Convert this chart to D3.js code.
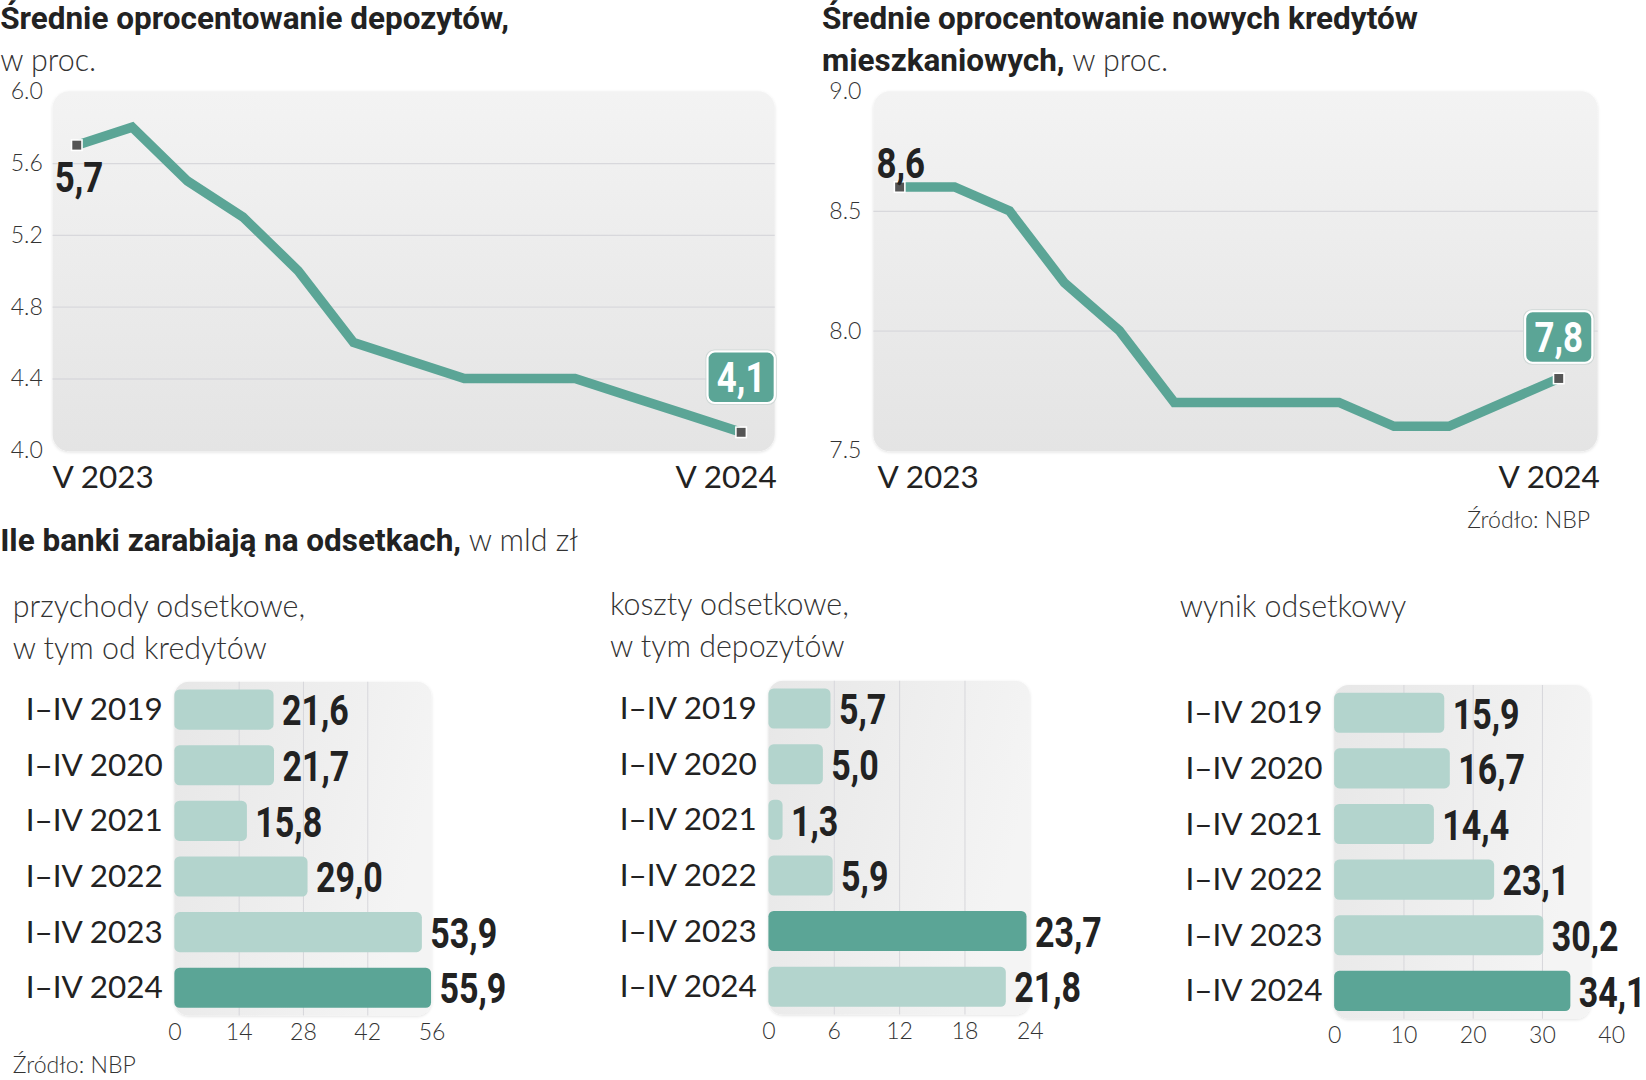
<!DOCTYPE html>
<html lang="pl">
<head>
<meta charset="utf-8">
<script src="https://cdn.jsdelivr.net/npm/d3@7"></script>
<style>
  body { margin: 0; background: #fff; }
  .bold { font-family: Roboto, "DejaVu Sans Condensed", sans-serif; font-weight: 700; fill: #222; }
  .light { font-family: Lato, "Open Sans", sans-serif; font-weight: 300; fill: #333; }
  .reg { font-family: Lato, "Open Sans", sans-serif; font-weight: 400; fill: #222; }
</style>
</head>
<body>
<svg id="chart"></svg>
<script>
// data
const months = ["V 2023", "VI 2023", "VII 2023", "VIII 2023", "IX 2023", "X 2023", "XI 2023",
  "XII 2023", "I 2024", "II 2024", "III 2024", "IV 2024", "V 2024"];
const deposits = [5.7, 5.8, 5.5, 5.3, 5.0, 4.6, 4.5, 4.4, 4.4, 4.4, 4.3, 4.2, 4.1];
const mortgages = [8.6, 8.6, 8.5, 8.2, 8.0, 7.7, 7.7, 7.7, 7.7, 7.6, 7.6, 7.7, 7.8];
const depTicks = [4.0, 4.4, 4.8, 5.2, 5.6, 6.0];
const mortTicks = [7.5, 8.0, 8.5, 9.0];

const years = ["I–IV 2019", "I–IV 2020", "I–IV 2021", "I–IV 2022", "I–IV 2023", "I–IV 2024"];
const income = [21.6, 21.7, 15.8, 29.0, 53.9, 55.9];
const costs = [5.7, 5.0, 1.3, 5.9, 23.7, 21.8];
const netResult = [15.9, 16.7, 14.4, 23.1, 30.2, 34.1];
const incomeTicks = [0, 14, 28, 42, 56];
const costTicks = [0, 6, 12, 18, 24];
const resultTicks = [0, 10, 20, 30, 40];

const teal = "#5ba596", tealLight = "#b3d4cd";
const comma = v => d3.format(".1f")(v).replace(".", ",");
const NARROW = 0.79;   // squeeze for the condensed bold numbers

const svg = d3.select("#chart")
  .attr("width", 1646).attr("height", 1080)
  .attr("viewBox", "0 0 1568 1029");

const defs = svg.append("defs");
const grad = defs.append("linearGradient").attr("id", "bgGrad")
  .attr("x1", 0).attr("y1", 0).attr("x2", 0).attr("y2", 1);
grad.append("stop").attr("offset", "0%").attr("stop-color", "#f3f3f3");
grad.append("stop").attr("offset", "100%").attr("stop-color", "#e4e4e4");
const grad2 = defs.append("linearGradient").attr("id", "barBg")
  .attr("x1", 0).attr("y1", 0).attr("x2", 1).attr("y2", 0.3);
grad2.append("stop").attr("offset", "0%").attr("stop-color", "#e7e7e7");
grad2.append("stop").attr("offset", "100%").attr("stop-color", "#f4f4f4");
const shadow = defs.append("filter").attr("id", "soft")
  .attr("x", "-5%").attr("y", "-5%").attr("width", "110%").attr("height", "110%");
shadow.append("feDropShadow").attr("dx", 0).attr("dy", 1).attr("stdDeviation", 1.5)
  .attr("flood-color", "#000").attr("flood-opacity", 0.12);

// condensed bold text: squeezed horizontally around its anchor point
function narrowText(parent, x, y, size, str, anchor, sx) {
  return parent.append("text").attr("class", "bold").attr("font-size", size)
    .attr("text-anchor", anchor || "start")
    .attr("transform", `translate(${x},${y}) scale(${sx || NARROW},1)`)
    .text(str);
}

// titles
function title(x, y, boldText, lightText) {
  const t = svg.append("text").attr("font-size", 30)
    .attr("x", x).attr("y", y);
  if (boldText) t.append("tspan").attr("class", "bold").text(boldText);
  if (lightText) t.append("tspan").attr("class", "light").attr("font-size", 29).text(lightText);
  return t;
}
title(0, 28, "Średnie oprocentowanie depozytów,");
title(0, 68, null, "w proc.");
title(783, 28, "Średnie oprocentowanie nowych kredytów");
title(783, 68, "mieszkaniowych,", " w proc.");
title(0, 525, "Ile banki zarabiają na odsetkach,", " w mld zł");

function lineChart(o) {
  const g = svg.append("g");
  const x = d3.scalePoint().domain(months).range([o.px0, o.px1]);
  const y = d3.scaleLinear().domain(o.domain).range([429, 87]);

  g.append("rect")
    .attr("x", o.bg0).attr("y", 87).attr("width", o.bg1 - o.bg0).attr("height", 343)
    .attr("rx", 16).attr("fill", "url(#bgGrad)").attr("filter", "url(#soft)");

  const grid = g.append("g").attr("transform", `translate(${o.bg0},0)`)
    .call(d3.axisLeft(y).tickValues(o.ticks.slice(1, -1)).tickSize(-(o.bg1 - o.bg0)).tickFormat(""));
  grid.select(".domain").remove();
  grid.selectAll(".tick line").attr("stroke", "#d8d8dc").attr("stroke-width", 1.2);

  const ax = g.append("g").attr("transform", `translate(${o.tickX},0)`)
    .call(d3.axisLeft(y).tickValues(o.ticks).tickSize(0).tickFormat(d3.format(".1f")));
  ax.select(".domain").remove();
  ax.selectAll("text").attr("x", 0).attr("text-anchor", "start")
    .attr("class", "light").attr("font-size", 22).attr("fill", "#333");

  const line = d3.line().x((d, i) => x(months[i])).y(d => y(d));
  g.append("path").datum(o.values).attr("d", line)
    .attr("fill", "none").attr("stroke", teal).attr("stroke-width", 9);

  const ends = [0, o.values.length - 1];
  g.selectAll(".mk").data(ends).join("rect")
    .attr("x", i => x(months[i]) - 5).attr("y", i => y(o.values[i]) - 5)
    .attr("width", 10).attr("height", 10)
    .attr("fill", "#555").attr("stroke", "#fff").attr("stroke-width", 1.5);

  // first value label
  const fx = x(months[0]), fy = y(o.values[0]);
  narrowText(g, fx + o.firstDx, fy + o.firstDy, 41, comma(o.values[0]), o.firstAnchor, 0.81);

  // last value label in a box
  const last = o.values.length - 1;
  const lx = x(months[last]), ly = y(o.values[last]);
  const bw = 64, bh = 49, by = ly - o.boxGap - bh;
  g.append("rect").attr("x", lx - bw / 2 - 1.5).attr("y", by - 1.5)
    .attr("width", bw + 3).attr("height", bh + 3).attr("rx", 8)
    .attr("fill", "none").attr("stroke", "#cfd8d6").attr("stroke-width", 1);
  g.append("rect").attr("x", lx - bw / 2).attr("y", by).attr("width", bw).attr("height", bh)
    .attr("rx", 7).attr("fill", teal).attr("stroke", "#fff").attr("stroke-width", 2);
  narrowText(g, lx, by + bh / 2 + 14, 41, comma(o.values[last]), "middle", 0.81).style("fill", "#fff");

  // x labels
  g.append("text").attr("class", "reg").attr("font-size", 30)
    .attr("x", o.bg0 + o.xlDx).attr("y", 465).text(months[0]);
  g.append("text").attr("class", "reg").attr("font-size", 30)
    .attr("x", o.bg1 + 2).attr("y", 465).attr("text-anchor", "end").text(months[last]);
}

lineChart({ values: deposits, domain: [4.0, 6.0], ticks: depTicks, px0: 73, px1: 706,
  bg0: 50, bg1: 738, tickX: 10, firstDx: -21, firstDy: 45, firstAnchor: "start", boxGap: 28, xlDx: 0 });
lineChart({ values: mortgages, domain: [7.5, 9.0], ticks: mortTicks, px0: 857, px1: 1485,
  bg0: 832, bg1: 1522, tickX: 790, firstDx: 1, firstDy: -9, firstAnchor: "middle", boxGap: 15, xlDx: 4 });

svg.append("text").attr("class", "light").attr("font-size", 22)
  .attr("x", 1515).attr("y", 503).attr("text-anchor", "end").text("Źródło: NBP");

function barChart(o) {
  const g = svg.append("g");
  const x = d3.scaleLinear().domain([0, o.ticks[o.ticks.length - 1]]).range([o.x0, o.x1]);
  const y = d3.scaleBand().domain(years).range([o.y0, o.y0 + 318])
    .paddingInner(0.28).paddingOuter(0.14);

  g.append("rect").attr("x", o.x0).attr("y", o.y0)
    .attr("width", x(o.bgMax) - o.x0).attr("height", 318)
    .attr("rx", 14).attr("fill", "url(#barBg)").attr("filter", "url(#soft)");

  const grid = g.append("g").attr("transform", `translate(0,${o.y0})`)
    .call(d3.axisBottom(x).tickValues(o.ticks.filter(t => t > 0 && t < o.bgMax))
      .tickSize(318).tickFormat(""));
  grid.select(".domain").remove();
  grid.selectAll(".tick line").attr("stroke", "#d8d8dc").attr("stroke-width", 1);

  g.selectAll(".bar").data(o.values).join("rect")
    .attr("x", o.x0).attr("y", (d, i) => y(years[i]))
    .attr("width", d => x(d) - o.x0).attr("height", y.bandwidth())
    .attr("rx", 5).attr("fill", (d, i) => i === o.hi ? teal : tealLight);

  o.values.forEach((d, i) => {
    narrowText(g, x(d) + 8, y(years[i]) + y.bandwidth() / 2 + 15, 41, comma(d), "start");
  });

  g.selectAll(".cat").data(years).join("text")
    .attr("class", "reg").attr("font-size", 30)
    .attr("x", o.x0 - 11).attr("y", d => y(d) + y.bandwidth() / 2 + 10)
    .attr("text-anchor", "end").text(d => d);

  const ax = g.append("g").attr("transform", `translate(0,${o.y0 + 318})`)
    .call(d3.axisBottom(x).tickValues(o.ticks).tickSize(0).tickPadding(8));
  ax.select(".domain").remove();
  ax.selectAll("text").attr("class", "light").attr("font-size", 22).attr("fill", "#333");

  o.sub.forEach((s, i) => {
    g.append("text").attr("class", "light").attr("font-size", 29)
      .attr("x", o.subX).attr("y", o.subY + i * 40).text(s);
  });
}

barChart({ values: income, ticks: incomeTicks, bgMax: 56, x0: 166, x1: 411, y0: 649.6, hi: 5,
  sub: ["przychody odsetkowe,", "w tym od kredytów"], subX: 12, subY: 588 });
barChart({ values: costs, ticks: costTicks, bgMax: 24, x0: 732, x1: 981, y0: 648.6, hi: 4,
  sub: ["koszty odsetkowe,", "w tym depozytów"], subX: 581, subY: 586 });
barChart({ values: netResult, ticks: resultTicks, bgMax: 37, x0: 1271, x1: 1535, y0: 652.6, hi: 5,
  sub: ["wynik odsetkowy"], subX: 1124, subY: 588 });

svg.append("text").attr("class", "light").attr("font-size", 22)
  .attr("x", 12).attr("y", 1022).text("Źródło: NBP");
</script>
</body>
</html>
